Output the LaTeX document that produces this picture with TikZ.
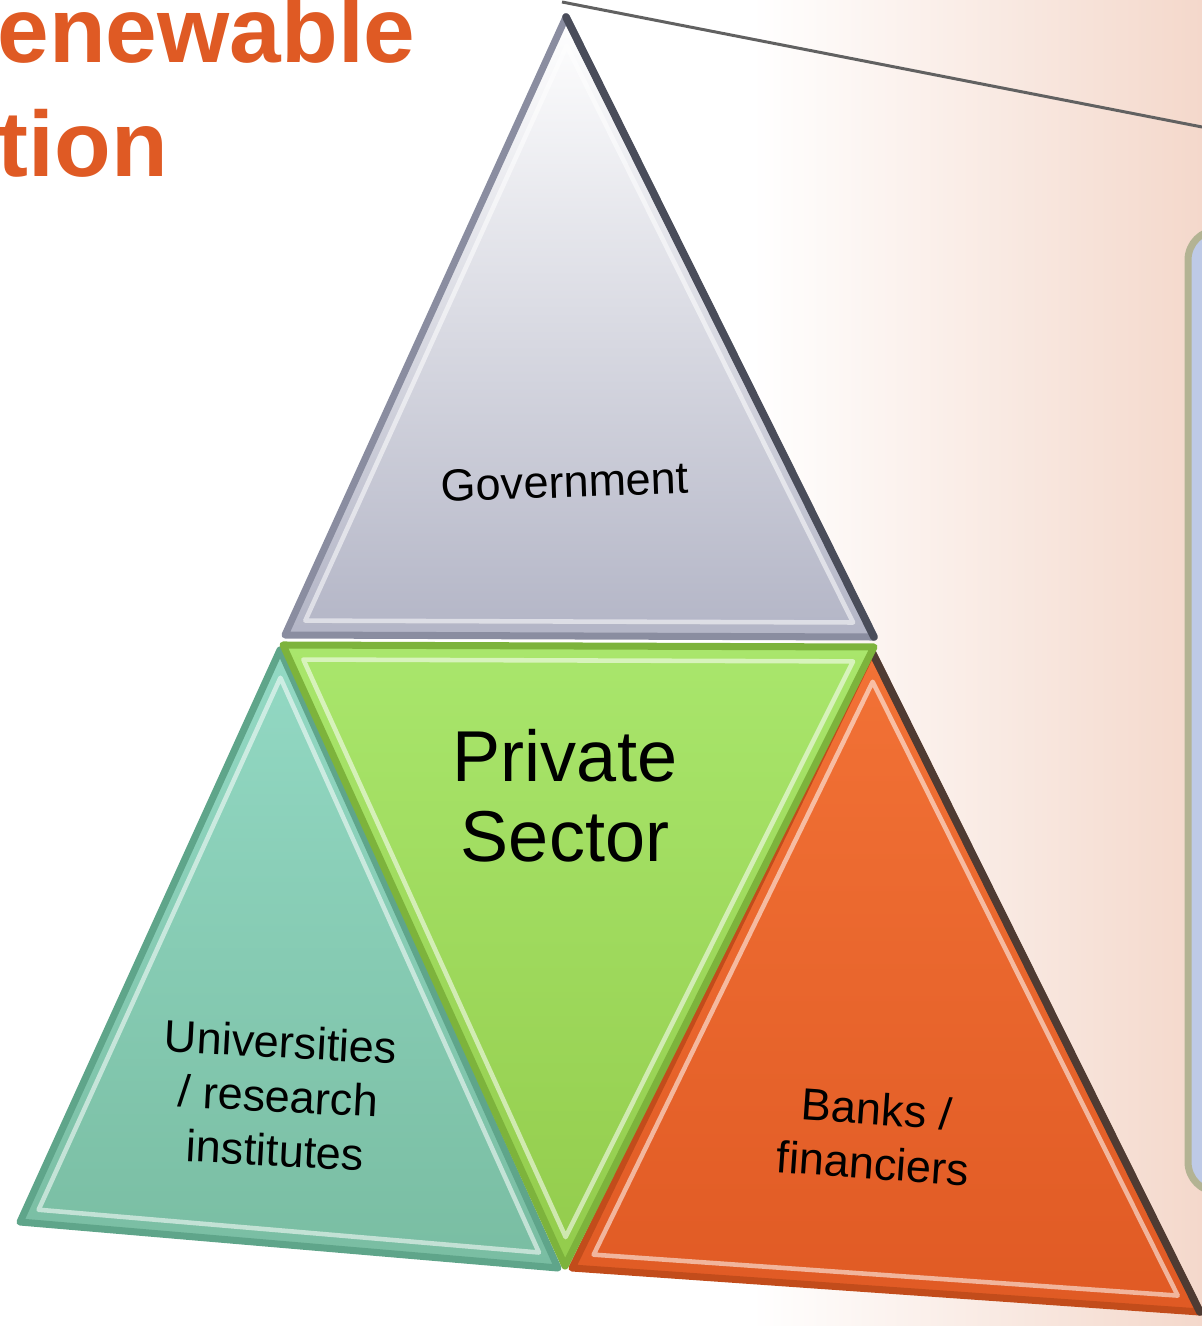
\documentclass[tikz,border=0pt]{standalone}
\usepackage{fontspec}
\setmainfont{Liberation Sans}
\usepackage{tikz}
\usetikzlibrary{calc}
\definecolor{titleorange}{HTML}{DF5A24}
\definecolor{backpeach}{HTML}{F4D8CB}
\definecolor{panelfill}{HTML}{BECAE6}
\definecolor{paneledge}{HTML}{B3B393}
\definecolor{govmid}{HTML}{E2E4F5}
\definecolor{govbot}{HTML}{B3B5C6}
\definecolor{govline}{HTML}{8A8DA0}
\definecolor{govedge}{HTML}{4A4D5A}
\definecolor{greentop}{HTML}{A9E66C}
\definecolor{greenbot}{HTML}{93CC4C}
\definecolor{greenedge}{HTML}{7DB33C}
\definecolor{tealtop}{HTML}{93D9C4}
\definecolor{tealbot}{HTML}{79BDA2}
\definecolor{tealedge}{HTML}{5FA58A}
\definecolor{orangetop}{HTML}{F27236}
\definecolor{orangebot}{HTML}{E05A24}
\definecolor{orangeline}{HTML}{C24C1B}
\definecolor{orangeedge}{HTML}{4F3B33}
\tikzset{
  facet/.style = {line width=2pt, line join=round},
  bevel/.style = {draw=white, line width=1.3pt, opacity=0.55, line join=round},
  shadowedge/.style = {line width=2.2pt, line cap=round},
  tag/.style = {align=center, inner sep=0pt, font=\fontsize{12.8}{15.4}\selectfont},
  bigtag/.style = {tag, font=\fontsize{20.5}{22.8}\selectfont},
  title/.style = {anchor=base west, inner sep=0pt, text=titleorange, font=\bfseries\fontsize{26.4}{30}\selectfont},
  pointer/.style = {draw=black!62, line width=0.85pt},
  panel/.style = {draw=paneledge, fill=panelfill, line width=2pt, rounded corners=0.3cm}
}

\begin{document}
\begin{tikzpicture}
  \useasboundingbox (0,0) rectangle (12.02,-13.26);
  \clip (0,0) rectangle (12.02,-13.26);

  % backdrop and side panel
  \shade[left color=white, right color=backpeach] (7.52,0) rectangle (12.02,-13.26);
  \draw[panel] (11.88,-2.30) rectangle (12.40,-11.92);

  % heading, cut at the left edge
  \node[title] (head1) at (-0.03,-0.63) {enewable};
  \node[title] (head2) at (-0.03,-1.77) {tion};

  % corners of the four triangles
  \coordinate (g1) at (5.66,-0.17);
  \coordinate (g2) at (2.85,-6.35);
  \coordinate (g3) at (8.74,-6.37);
  \coordinate (p1) at (2.83,-6.45);
  \coordinate (p2) at (8.74,-6.47);
  \coordinate (p3) at (5.65,-12.66);
  \coordinate (u1) at (2.80,-6.50);
  \coordinate (u2) at (0.20,-12.22);
  \coordinate (u3) at (5.58,-12.68);
  \coordinate (b1) at (8.72,-6.52);
  \coordinate (b2) at (5.72,-12.68);
  \coordinate (b3) at (12.00,-13.12);
  \coordinate (gc) at (barycentric cs:g1=1,g2=1,g3=1);
  \coordinate (pc) at (barycentric cs:p1=1,p2=1,p3=1);
  \coordinate (uc) at (barycentric cs:u1=1,u2=1,u3=1);
  \coordinate (bc) at (barycentric cs:b1=1,b2=1,b3=1);

  % line from the apex
  \coordinate (lineA) at (5.62,-0.02);
  \coordinate (lineB) at (12.02,-1.27);
  \draw[pointer] (lineA) -- (lineB);

  % universities
  \draw[facet, draw=tealedge, top color=tealtop, bottom color=tealbot] (u1) -- (u2) -- (u3) -- cycle;
  \draw[bevel] ($(uc)!0.93!(u1)$) -- ($(uc)!0.93!(u2)$) -- ($(uc)!0.93!(u3)$) -- cycle;

  % banks
  \draw[facet, draw=orangeline, top color=orangetop, bottom color=orangebot] (b1) -- (b2) -- (b3) -- cycle;
  \draw[shadowedge, draw=orangeedge] (b1) -- (b3);
  \draw[bevel] ($(bc)!0.93!(b1)$) -- ($(bc)!0.93!(b2)$) -- ($(bc)!0.93!(b3)$) -- cycle;

  % private sector
  \draw[facet, draw=greenedge, top color=greentop, bottom color=greenbot] (p1) -- (p2) -- (p3) -- cycle;
  \draw[bevel] ($(pc)!0.93!(p1)$) -- ($(pc)!0.93!(p2)$) -- ($(pc)!0.93!(p3)$) -- cycle;

  % government
  \draw[facet, draw=govline, top color=white, middle color=govmid, bottom color=govbot] (g1) -- (g2) -- (g3) -- cycle;
  \draw[shadowedge, draw=govedge] (g1) -- (g3);
  \draw[bevel] ($(gc)!0.93!(g1)$) -- ($(gc)!0.93!(g2)$) -- ($(gc)!0.93!(g3)$) -- cycle;

  % labels
  \node[tag, rotate=2] (gov) at (5.65,-4.82) {Government};
  \node[bigtag] (priv) at (5.65,-7.96) {Private\\Sector};
  \node[tag, rotate=-3] (uni) at (2.78,-10.96) {Universities\\/ research\\institutes};
  \node[tag, rotate=-4] (bank) at (8.75,-11.36) {Banks /\\financiers};
\end{tikzpicture}
\end{document}
